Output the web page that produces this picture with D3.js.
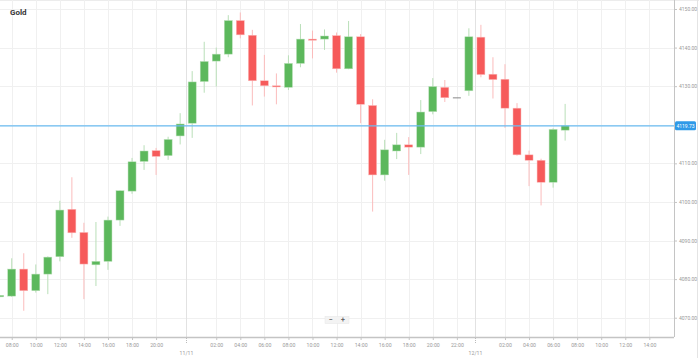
<!DOCTYPE html>
<html><head><meta charset="utf-8">
<script src="https://cdn.jsdelivr.net/npm/d3@7"></script>
<style>
html,body{margin:0;padding:0;background:#fff;}
svg{display:block;font-family:Roboto,"Open Sans",Arial,sans-serif;}
</style></head>
<body>
<svg id="chart" width="699" height="358"></svg>
<script>
const title = "Gold";
const candleTimes = [
 "10/11 07:00","10/11 08:00","10/11 09:00","10/11 10:00","10/11 11:00","10/11 12:00","10/11 13:00","10/11 14:00",
 "10/11 15:00","10/11 16:00","10/11 17:00","10/11 18:00","10/11 19:00","10/11 20:00","10/11 21:00","10/11 22:00",
 "11/11 00:00","11/11 01:00","11/11 02:00","11/11 03:00","11/11 04:00","11/11 05:00","11/11 06:00","11/11 07:00",
 "11/11 08:00","11/11 09:00","11/11 10:00","11/11 11:00","11/11 12:00","11/11 13:00","11/11 14:00","11/11 15:00",
 "11/11 16:00","11/11 17:00","11/11 18:00","11/11 19:00","11/11 20:00","11/11 21:00","11/11 22:00","11/11 23:00",
 "12/11 00:00","12/11 01:00","12/11 02:00","12/11 03:00","12/11 04:00","12/11 05:00","12/11 06:00","12/11 07:00"
];
const openP  = [4075.4,4075.6,4082.6,4077.0,4081.3,4085.8,4098.1,4092.1,4083.7,4084.6,4095.3,4102.8,4110.5,4113.3,4112.0,4117.1,
                4120.4,4131.2,4136.5,4138.3,4147.0,4143.2,4131.4,4130.1,4129.7,4135.9,4142.2,4142.2,4143.1,4134.5,4142.8,4125.0,
                4107.0,4113.2,4114.8,4114.2,4123.4,4129.7,4127.1,4128.8,4142.7,4133.1,4131.8,4124.3,4112.2,4110.8,4105.1,4118.6];
const highP  = [4075.9,4085.4,4086.7,4083.8,4085.9,4100.3,4106.4,4094.6,4094.8,4096.2,4103.0,4111.4,4114.7,4114.0,4116.9,4123.0,
                4133.9,4141.5,4140.0,4148.4,4149.1,4144.6,4138.1,4133.3,4138.0,4146.1,4144.4,4144.7,4143.9,4146.9,4143.5,4126.6,
                4116.1,4117.9,4116.8,4126.4,4132.1,4131.6,4127.1,4145.0,4145.9,4137.5,4135.7,4125.6,4113.3,4111.2,4119.1,4125.4];
const lowP   = [4075.3,4075.4,4071.8,4076.5,4076.1,4084.6,4090.7,4074.8,4078.2,4082.4,4093.8,4102.1,4108.3,4107.0,4110.9,4114.9,
                4116.6,4128.3,4129.9,4137.5,4142.4,4125.0,4127.3,4125.3,4129.0,4134.9,4137.2,4139.4,4133.5,4134.4,4120.4,4097.5,
                4105.5,4111.1,4107.0,4112.4,4122.7,4125.9,4127.1,4127.5,4132.3,4126.8,4119.2,4112.0,4104.1,4099.1,4103.7,4115.9];
const closeP = [4075.8,4082.6,4077.0,4081.3,4085.7,4097.9,4092.0,4083.9,4084.6,4095.3,4102.9,4110.4,4113.2,4111.8,4116.2,4120.2,
                4131.1,4136.4,4138.3,4147.0,4143.3,4131.4,4130.1,4129.8,4135.9,4142.2,4141.9,4143.0,4134.5,4142.8,4125.3,4107.0,
                4113.5,4114.8,4114.2,4123.3,4129.9,4127.0,4127.1,4142.8,4133.0,4131.7,4124.3,4112.2,4110.8,4105.1,4118.8,4119.73];
const timeTicks = [
 "10/11 08:00","10/11 10:00","10/11 12:00","10/11 14:00","10/11 16:00","10/11 18:00","10/11 20:00",
 "11/11 02:00","11/11 04:00","11/11 06:00","11/11 08:00","11/11 10:00","11/11 12:00","11/11 14:00","11/11 16:00",
 "11/11 18:00","11/11 20:00","11/11 22:00",
 "12/11 02:00","12/11 04:00","12/11 06:00","12/11 08:00","12/11 10:00","12/11 12:00","12/11 14:00"
];
const dayTicks = ["11/11","12/11"];
const priceTicks = [4070,4080,4090,4100,4110,4120,4130,4140,4150];
const lastPrice = 4119.73;

const W = 699, H = 358;
const plotL = 0, plotR = 674, plotT = 0, plotB = 337;

// slot index of a time string (hourly slots, closed hours skipped)
function slotOf(t){
  const i = candleTimes.indexOf(t);
  if (i >= 0) return i;
  const last = candleTimes[candleTimes.length-1];
  const h0 = last.split(" ")[1], h1 = t.split(" ")[1];
  return candleTimes.length-1 + (parseInt(h1) - parseInt(h0));
}
function daySep(d){
  const i = candleTimes.findIndex(t => t.startsWith(d));
  return i - 0.5;
}

const x = d3.scaleLinear().domain([0.025, 56.05]).range([plotL, plotR]);
const y = d3.scaleLinear().domain([4065.0, 4152.33]).range([plotB, plotT]);

const svg = d3.select("#chart");
svg.append("defs").append("clipPath").attr("id","plotclip")
  .append("rect").attr("x",plotL).attr("y",plotT).attr("width",plotR-plotL).attr("height",plotB-plotT);

// frame lines
svg.append("line").attr("x1",0).attr("x2",W).attr("y1",0.5).attr("y2",0.5).attr("stroke","#ececec");
svg.append("line").attr("x1",W-1.5).attr("x2",W-1.5).attr("y1",0).attr("y2",H).attr("stroke","#e4e4e4");

const grid = svg.append("g");
grid.selectAll("line.h").data(priceTicks).join("line").attr("class","h")
  .attr("x1",plotL).attr("x2",plotR).attr("y1",d=>Math.round(y(d))+0.5).attr("y2",d=>Math.round(y(d))+0.5)
  .attr("stroke","#f0f0f0").attr("stroke-width",1);
grid.selectAll("line.v").data(timeTicks).join("line").attr("class","v")
  .attr("x1",d=>Math.round(x(slotOf(d)))+0.5).attr("x2",d=>Math.round(x(slotOf(d)))+0.5)
  .attr("y1",plotT).attr("y2",plotB).attr("stroke","#f0f0f0").attr("stroke-width",1);
grid.selectAll("line.d").data(dayTicks).join("line").attr("class","d")
  .attr("x1",d=>Math.round(x(daySep(d)))+0.5).attr("x2",d=>Math.round(x(daySep(d)))+0.5)
  .attr("y1",plotT).attr("y2",plotB).attr("stroke","#e2e2e2").attr("stroke-width",1);

// title
svg.append("text").attr("x",10).attr("y",15).text(title)
  .attr("font-size",8).attr("font-weight","bold").attr("fill","#333");

// candles
const candles = candleTimes.map((t,i)=>({t,i,o:openP[i],h:highP[i],l:lowP[i],c:closeP[i]}));
const up = "#5cb85c", dn = "#f65a5a", flat = "#888";
function col(d){ return d.c > d.o ? up : (d.c < d.o ? dn : flat); }
function wickCol(d){ return d.c > d.o ? "#b9dfb8" : (d.c < d.o ? "#fbbcbc" : flat); }
const bw = 8;
const cg = svg.append("g").attr("clip-path","url(#plotclip)");
cg.selectAll("line.wick").data(candles).join("line").attr("class","wick")
  .attr("x1",d=>x(d.i)).attr("x2",d=>x(d.i)).attr("y1",d=>y(d.h)).attr("y2",d=>y(d.l))
  .attr("stroke",wickCol).attr("stroke-width",1);
cg.selectAll("rect.body").data(candles).join("rect").attr("class","body")
  .attr("x",d=>x(d.i)-bw/2).attr("width",bw)
  .attr("y",d=>y(Math.max(d.o,d.c)))
  .attr("height",d=>Math.max(1,Math.abs(y(d.o)-y(d.c))))
  .attr("fill",col).attr("stroke",d=>d.c===d.o?"none":wickCol(d)).attr("stroke-width",0.5);

// last price line
svg.append("line").attr("x1",plotL).attr("x2",plotR).attr("y1",y(lastPrice)).attr("y2",y(lastPrice))
  .attr("stroke","#6bbcf2").attr("stroke-width",1.3);

// right axis (the label hidden behind the last-price tag is left blank)
const yAxis = d3.axisRight(y).tickValues(priceTicks)
  .tickFormat(d => Math.abs(y(d) - y(lastPrice)) < 8 ? "" : d3.format(".2f")(d))
  .tickSize(3).tickPadding(2);
const ya = svg.append("g").attr("transform",`translate(${plotR},0)`).call(yAxis);
ya.select(".domain").attr("stroke","#c4c4c4").attr("d",`M0.5,${plotT}V${plotB}`);
ya.selectAll(".tick line").attr("stroke","#c4c4c4");
ya.selectAll(".tick text").attr("font-size",5).attr("fill","#999").attr("font-family","Roboto,Arial,sans-serif");

// price label
const pl = svg.append("g").attr("transform",`translate(${plotR+1},${y(lastPrice)})`);
pl.append("rect").attr("x",0).attr("y",-4.5).attr("width",21).attr("height",9).attr("rx",1.5).attr("fill","#2f9ae8");
pl.append("text").attr("x",10.5).attr("y",0).attr("dy","0.35em").attr("text-anchor","middle")
  .attr("font-size",5).attr("fill","#fff").text(d3.format(".2f")(lastPrice));

// bottom axis
const xAxis = d3.axisBottom(x).tickValues(timeTicks.map(slotOf))
  .tickFormat((d,i)=>timeTicks[i].split(" ")[1]).tickSize(3).tickPadding(3);
const xa = svg.append("g").attr("transform",`translate(0,${plotB})`).call(xAxis);
xa.select(".domain").attr("stroke","#c4c4c4").attr("stroke-width",1.5).attr("d",`M${plotL},0.5H${plotR}`);
xa.selectAll(".tick line").attr("stroke","#c4c4c4");
xa.selectAll(".tick text").attr("font-size",5.2).attr("fill","#999").attr("font-family","Roboto,Arial,sans-serif");

// day ticks
const dg = svg.append("g").attr("transform",`translate(0,${plotB})`);
dayTicks.forEach(d=>{
  const px = Math.round(x(daySep(d)))+0.5;
  dg.append("line").attr("x1",px).attr("x2",px).attr("y1",1).attr("y2",7)
    .attr("stroke","#bbb").attr("stroke-dasharray","1,1");
  dg.append("text").attr("x",px).attr("y",17.5).attr("text-anchor","middle")
    .attr("font-size",5.2).attr("fill","#999").text(d);
});

// zoom control
const zc = svg.append("g").attr("transform","translate(325,316.5)");
zc.append("rect").attr("x",0).attr("y",0).attr("width",24).attr("height",7).attr("fill","#f3f3f3").attr("stroke","#e6e6e6").attr("stroke-width",0.5);
zc.append("text").attr("x",6).attr("y",3.5).attr("dy","0.35em").attr("text-anchor","middle").attr("font-size",7).attr("font-weight","bold").attr("fill","#666").text("−");
zc.append("text").attr("x",18).attr("y",3.5).attr("dy","0.35em").attr("text-anchor","middle").attr("font-size",7).attr("font-weight","bold").attr("fill","#666").text("+");
</script>
</body></html>
